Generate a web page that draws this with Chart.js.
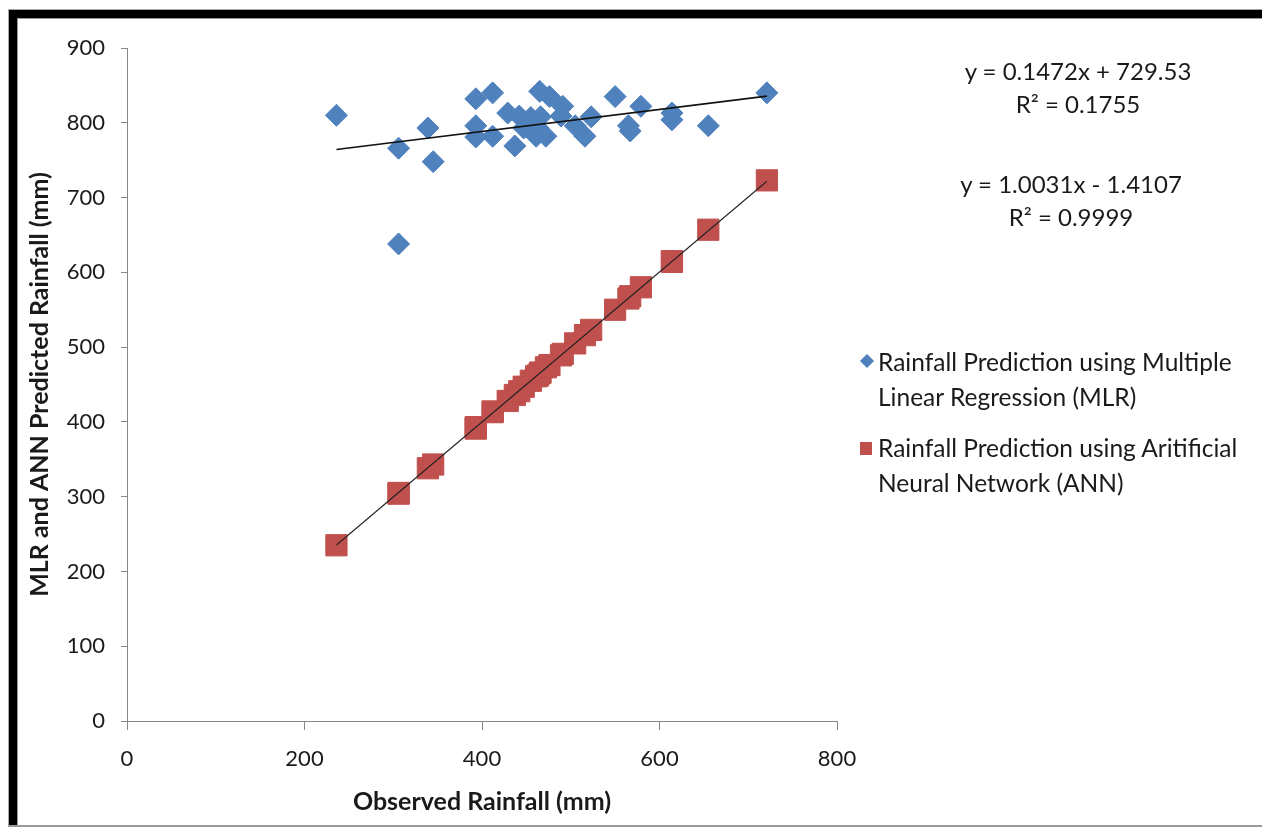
<!DOCTYPE html>
<html>
<head>
<meta charset="utf-8">
<title>Observed vs predicted rainfall</title>
<script src="https://cdn.jsdelivr.net/npm/chart.js@4.4.1/dist/chart.umd.min.js"></script>
<style>
    html, body { margin: 0; padding: 0; background: #fff; }
    #wrap { position: relative; width: 1262px; height: 829px; overflow: hidden; font-family: Lato, "Open Sans", sans-serif; color: #1a1a1a; }
    #graph { position: absolute; left: 0; top: 0; }
    .line { position: absolute; pointer-events: none; }
    .eq { position: absolute; width: 320px; text-align: center; font-size: 24px; line-height: 33px; }
    .key { position: absolute; left: 878px; font-size: 24.5px; line-height: 35px; white-space: nowrap; }
    .mark { position: absolute; }
</style>
</head>
<body>
<div id="wrap">
    <canvas id="graph" width="1262" height="829"></canvas>

    <!-- screenshot frame -->
    <div class="line" style="left:8px;top:9px;width:1254px;height:1px;background:#a6a6a6"></div>
    <div class="line" style="left:8px;top:9px;width:1px;height:818px;background:#a6a6a6"></div>
    <div class="line" style="left:9px;top:10px;width:1253px;height:8px;background:#000"></div>
    <div class="line" style="left:9px;top:10px;width:8px;height:816px;background:#000"></div>
    <div class="line" style="left:17px;top:18px;width:1245px;height:1px;background:#9a9a9a"></div>
    <div class="line" style="left:17px;top:18px;width:1px;height:808px;background:#9a9a9a"></div>
    <div class="line" style="left:8px;top:825px;width:1254px;height:2px;background:#9a9a9a"></div>

    <div class="eq" id="eqMlr" style="left:918px;top:54px"></div>
    <div class="eq" id="eqAnn" style="left:911px;top:167px"></div>

    <div class="mark" style="left:862px;top:356px;width:10px;height:10px;background:#4f81bd;transform:rotate(45deg)"></div>
    <div class="key" style="top:344px">Rainfall Prediction using Multiple<br>Linear Regression (MLR)</div>
    <div class="mark" style="left:860px;top:442px;width:12px;height:13px;background:#c0504d"></div>
    <div class="key" style="top:430px">Rainfall Prediction using Aritificial<br>Neural Network (ANN)</div>
</div>

<script>
// observed rainfall (mm), one entry per year
const observed = [236, 306, 306, 339, 345, 393, 393, 393, 412, 412, 429, 437, 442, 447, 455, 461, 463, 466,
    465, 472, 476, 489, 491, 505, 516, 523, 550, 565, 567, 579, 614, 614, 655, 721];
const mlrPredicted = [810, 766, 638, 793, 748, 832, 796, 781, 840, 782, 813, 769, 809, 793, 807, 782, 793, 808,
    842, 782, 835, 809, 822, 796, 782, 808, 835, 796, 789, 822, 813, 804, 796, 840];
const annPredicted = [235, 304, 305, 338, 343, 391, 393, 392, 413, 414, 428, 436, 441, 447, 455, 461, 462, 466,
    465, 473, 476, 489, 491, 505, 516, 523, 550, 565, 568, 580, 615, 614, 657, 723];

// linear trendlines as printed on the chart: [slope, intercept, r2]
const mlrFit = [0.1472, 729.53, 0.1755];
const annFit = [1.0031, -1.4107, 0.9999];

const xTicks = [0, 200, 400, 600, 800];
const yTicks = [0, 100, 200, 300, 400, 500, 600, 700, 800, 900];

const blue = '#4f81bd';
const red = '#c0504d';
const axisGray = '#868686';
const textColor = '#1a1a1a';

const points = (xs, ys) => xs.map((x, i) => ({x: x, y: ys[i]}));

const trend = (fit) => {
    const lo = Math.min(...observed);
    const hi = Math.max(...observed);
    return [{x: lo, y: fit[0] * lo + fit[1]}, {x: hi, y: fit[0] * hi + fit[1]}];
};

const equation = (fit) => {
    const sign = fit[1] < 0 ? '- ' : '+ ';
    return `y = ${fit[0].toFixed(4)}x ${sign}${Math.abs(fit[1])}<br>R² = ${fit[2].toFixed(4)}`;
};
document.querySelector('#eqMlr').innerHTML = equation(mlrFit);
document.querySelector('#eqAnn').innerHTML = equation(annFit);

const graph = document.querySelector('#graph').getContext('2d');

new Chart(graph, {
    type: 'scatter',
    data: {
        datasets: [
            {
                label: 'MLR trend',
                data: trend(mlrFit),
                showLine: true,
                borderColor: '#111',
                borderWidth: 1.6,
                pointRadius: 0
            },
            {
                label: 'ANN trend',
                data: trend(annFit),
                showLine: true,
                borderColor: '#222',
                borderWidth: 1.1,
                pointRadius: 0
            },
            {
                label: 'Rainfall Prediction using Multiple Linear Regression (MLR)',
                data: points(observed, mlrPredicted),
                pointStyle: 'rectRot',
                pointRadius: 11,
                backgroundColor: blue,
                borderColor: blue,
                borderWidth: 1
            },
            {
                label: 'Rainfall Prediction using Aritificial Neural Network (ANN)',
                data: points(observed, annPredicted),
                pointStyle: 'rect',
                pointRadius: 15,
                backgroundColor: red,
                borderColor: red,
                borderWidth: 1
            }
        ]
    },
    options: {
        responsive: false,
        animation: false,
        events: [],
        devicePixelRatio: 1,
        layout: {
            padding: {left: 20, right: 425, top: 48, bottom: 10}
        },
        scales: {
            x: {
                type: 'linear',
                min: 0,
                max: 800,
                afterBuildTicks: (scale) => { scale.ticks = xTicks.map(v => ({value: v})); },
                afterFit: (scale) => { scale.height = 98; },
                ticks: {
                    color: textColor,
                    padding: 16,
                    font: {family: 'Lato', size: 22}
                },
                grid: {
                    drawOnChartArea: false,
                    drawTicks: true,
                    tickLength: 9,
                    color: axisGray
                },
                border: {color: axisGray, width: 1},
                title: {
                    display: true,
                    text: 'Observed Rainfall (mm)',
                    color: textColor,
                    padding: {top: 0, bottom: 2},
                    font: {family: 'Lato', size: 25, weight: 'bold'}
                }
            },
            y: {
                type: 'linear',
                min: 0,
                max: 900,
                afterBuildTicks: (scale) => { scale.ticks = yTicks.map(v => ({value: v})); },
                afterFit: (scale) => { scale.width = 107; },
                ticks: {
                    color: textColor,
                    padding: 16,
                    font: {family: 'Lato', size: 22}
                },
                grid: {
                    drawOnChartArea: false,
                    drawTicks: true,
                    tickLength: 6,
                    color: axisGray
                },
                border: {color: axisGray, width: 1},
                title: {
                    display: true,
                    text: 'MLR and ANN Predicted Rainfall (mm)',
                    color: textColor,
                    padding: {top: 5, bottom: 0},
                    font: {family: 'Lato', size: 25, weight: 'bold'}
                }
            }
        },
        plugins: {
            legend: {display: false},
            tooltip: {enabled: false}
        }
    }
});
</script>
</body>
</html>
